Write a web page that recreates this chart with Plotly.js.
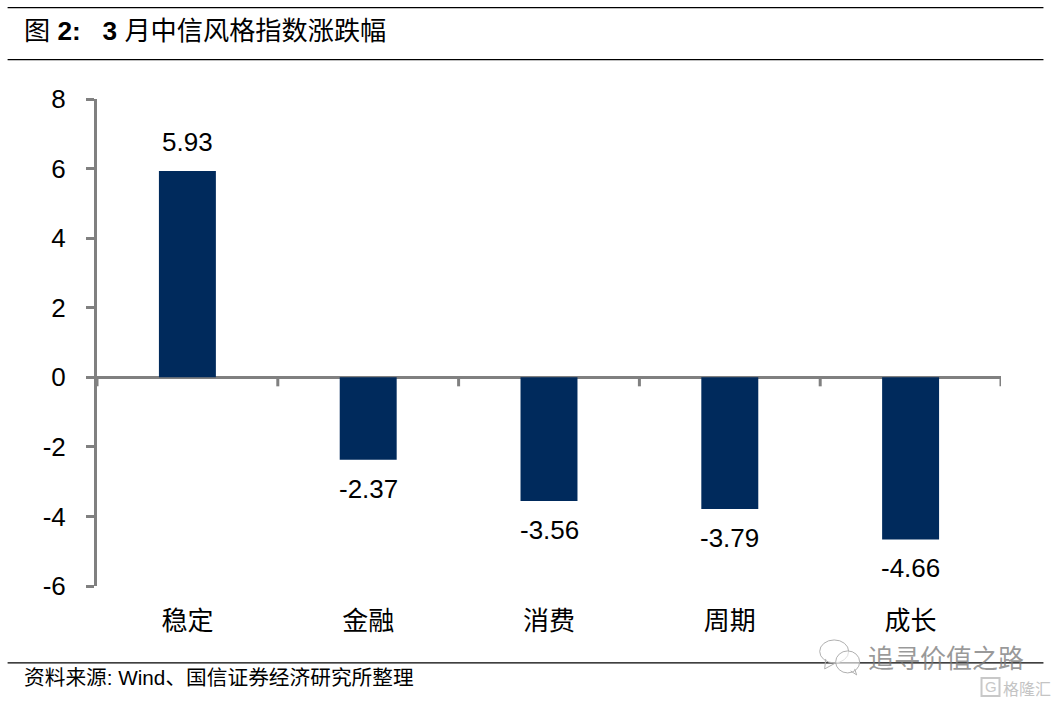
<!DOCTYPE html>
<html><head><meta charset="utf-8">
<script src="https://cdn.plot.ly/plotly-3.0.1.min.js"></script>
<style>html,body{margin:0;padding:0;background:#fff}#c{width:1058px;height:705px}</style>
</head><body><div id="c"></div>
<script>
const categories = ["稳定","金融","消费","周期","成长"];
const values = [5.93,-2.37,-3.56,-3.79,-4.66];
const valueLabels = ["5.93","-2.37","-3.56","-3.79","-4.66"];
const yTicks = [8,6,4,2,0,-2,-4,-6];
const chartTitle = '图 <b>2:   3</b> 月中信风格指数涨跌幅';
const sourceNote = '资料来源: Wind、国信证券经济研究所整理';
const watermark = '追寻价值之路';
const watermark2 = '格隆汇';
const logoGlyph = 'G';

const W=1058,H=705,L=96.5,R=1001.5,T=98.5,B=586;
const cjk='"Liberation Sans","Noto Sans CJK SC",sans-serif';
const px=v=>(v-L)/(R-L), py=v=>(B-v)/(B-T);
const rule=(x0,x1,y)=>({type:'line',xref:'paper',yref:'paper',x0:px(x0),x1:px(x1),y0:py(y),y1:py(y),line:{color:'#000',width:1.3}});
const oval=(x0,y0,x1,y1)=>({type:'circle',xref:'paper',yref:'paper',x0:px(x0),x1:px(x1),y0:py(y0),y1:py(y1),fillcolor:'rgba(255,255,255,0.6)',line:{color:'#b0b0b0',width:1}});
const tail=(x0,y0,x1,y1,x2,y2)=>({type:'path',xref:'paper',yref:'paper',path:`M ${px(x0)} ${py(y0)} L ${px(x1)} ${py(y1)} L ${px(x2)} ${py(y2)}`,line:{color:'#b0b0b0',width:1}});
const xTickShapes=[];
for(let i=0;i<=categories.length;i++){
  xTickShapes.push({type:'line',xref:'x',yref:'y',x0:i-0.5,x1:i-0.5,y0:0,y1:-0.26,line:{color:'#808080',width:3}});
}
const labelAnn=values.map((v,i)=>({
  xref:'x',yref:'y',x:i,y:v,text:valueLabels[i],showarrow:false,
  xanchor:'center',yanchor:v>=0?'bottom':'top',yshift:v>=0?12:-12,
  font:{family:'"Liberation Sans",Arial,sans-serif',size:26,color:'#000'}
}));
Plotly.newPlot('c',[{
  type:'bar',
  x:categories.map((_,i)=>i),
  y:values,
  width:0.315,
  marker:{color:'#002A5C',line:{width:0}},
  hoverinfo:'skip'
}],{
  width:W,height:H,
  margin:{l:L,r:W-R,t:T,b:H-B,pad:0},
  paper_bgcolor:'#fff',plot_bgcolor:'#fff',
  showlegend:false,
  xaxis:{
    range:[-0.5,4.5],
    tickmode:'array',tickvals:categories.map((_,i)=>i),ticktext:categories,
    ticks:'',showline:false,showgrid:false,zeroline:false,
    ticklabelstandoff:17,
    tickfont:{family:'"Noto Sans CJK SC",sans-serif',size:26,color:'#000'}
  },
  yaxis:{
    range:[-6,8],
    tickmode:'array',tickvals:yTicks,ticktext:yTicks.map(String),
    ticks:'outside',ticklen:8,tickwidth:3,tickcolor:'#808080',
    showline:true,linecolor:'#808080',linewidth:3,
    showgrid:false,zeroline:true,zerolinecolor:'#808080',zerolinewidth:3,
    ticklabelstandoff:15,
    tickfont:{family:'"Liberation Sans",Arial,sans-serif',size:26,color:'#000'}
  },
  shapes:[rule(7,1044,7),rule(7,1044,59),rule(7,1044,663),
    oval(820,640,849,663),tail(826,659,825,669,836,663),
    oval(836,651,860,673),tail(851,671,857,675,855,669),
    {type:'rect',xref:'paper',yref:'paper',x0:px(982),x1:px(1000),y0:py(678),y1:py(696),line:{color:'#c8c8c8',width:2}}
  ].concat(xTickShapes),
  annotations:labelAnn.concat([
    {xref:'paper',yref:'paper',x:px(21.5),y:py(30),xanchor:'left',yanchor:'middle',showarrow:false,text:chartTitle,font:{family:cjk,size:26.2,color:'#000'}},
    {xref:'paper',yref:'paper',x:px(21.5),y:py(678),xanchor:'left',yanchor:'middle',showarrow:false,text:sourceNote,font:{family:cjk,size:20.7,color:'#000'}},
    {xref:'paper',yref:'paper',x:px(866),y:py(657),xanchor:'left',yanchor:'middle',showarrow:false,text:watermark,font:{family:'"Noto Sans CJK SC",sans-serif',size:26,color:'rgba(120,120,120,0.75)'}},
    {xref:'paper',yref:'paper',x:px(1002),y:py(688),xanchor:'left',yanchor:'middle',showarrow:false,text:watermark2,font:{family:'"Noto Sans CJK SC",sans-serif',size:16,color:'#c4c4c4'}},
    {xref:'paper',yref:'paper',x:px(991),y:py(687),xanchor:'center',yanchor:'middle',showarrow:false,text:logoGlyph,font:{family:'"Liberation Sans",sans-serif',size:15,color:'#c8c8c8'}}
  ])
},{displayModeBar:false,staticPlot:true});
</script></body></html>
